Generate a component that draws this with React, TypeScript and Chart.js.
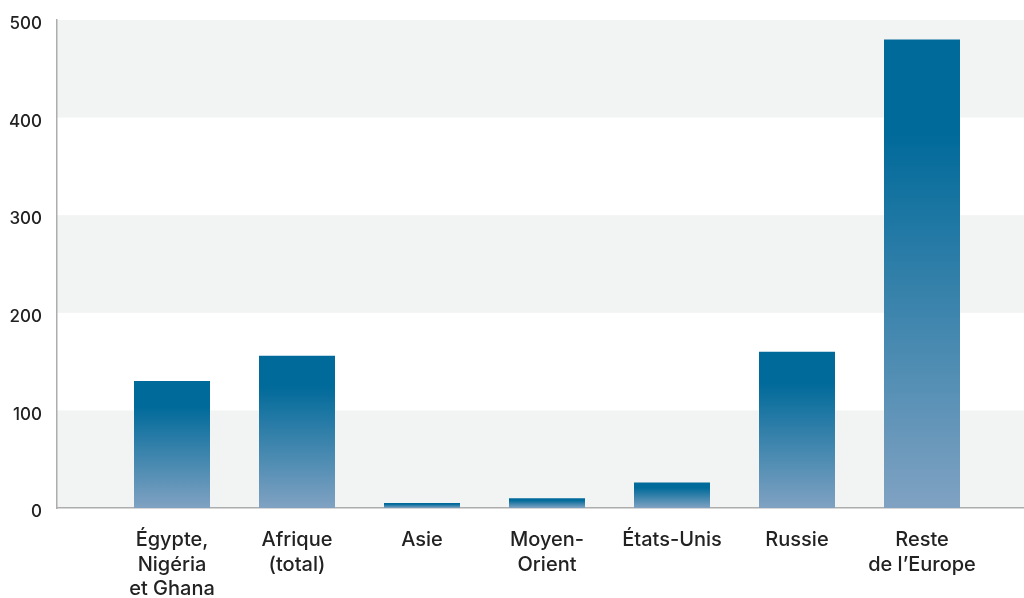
import React, { useEffect, useRef } from "react";
import { Chart, registerables } from "chart.js";

Chart.register(...registerables);

const categories: string[][] = [
  ["Égypte,", "Nigéria", "et Ghana"],
  ["Afrique", "(total)"],
  ["Asie"],
  ["Moyen-", "Orient"],
  ["États-Unis"],
  ["Russie"],
  ["Reste", "de l’Europe"],
];
const positions = [1, 2, 3, 4, 5, 6, 7];
const values = [130, 156, 5, 10, 26, 160, 480];
const yTicks = [0, 100, 200, 300, 400, 500];

const DARK = "#006a9a";
const LIGHT = "#80a2c2";
const BAND = "#f2f3f3";
const AXIS = "#adadad";
const TEXT = "#222222";
const FONT = "Inter, 'Liberation Sans', Arial, sans-serif";

const bandsPlugin = {
  id: "bands",
  beforeDraw(chart: any) {
    const { ctx, chartArea, scales } = chart;
    const y = scales.y;
    ctx.save();
    ctx.fillStyle = BAND;
    for (let i = 0; i < yTicks.length - 1; i += 2) {
      const y0 = y.getPixelForValue(yTicks[i]);
      const y1 = y.getPixelForValue(yTicks[i + 1]);
      ctx.fillRect(chartArea.left, y1, chartArea.right - chartArea.left, y0 - y1);
    }
    ctx.restore();
  },
};

export default function App() {
  const ref = useRef<HTMLCanvasElement>(null);
  useEffect(() => {
    document.body.style.margin = "0";
    const canvas = ref.current!;
    const chart = new Chart(canvas, {
      type: "bar",
      data: {
        datasets: [
          {
            data: positions.map((p, i) => ({ x: p, y: values[i] })),
            backgroundColor: (c: any) => {
              const ch = c.chart;
              const sy = ch.scales?.y;
              if (!ch.chartArea || !sy || !c.raw) return DARK;
              const top = sy.getPixelForValue(c.raw.y);
              const bottom = sy.getPixelForValue(0);
              if (!(bottom > top)) return DARK;
              const g = ch.ctx.createLinearGradient(0, top, 0, bottom);
              g.addColorStop(0, DARK);
              g.addColorStop(0.2, DARK);
              g.addColorStop(1, LIGHT);
              return g;
            },
            borderWidth: 0,
            barPercentage: 0.608,
            categoryPercentage: 1,
          },
        ],
      },
      options: {
        responsive: false,
        animation: false,
        layout: { padding: { top: 20, right: 0, left: 0, bottom: 0 } },
        plugins: { legend: { display: false }, tooltip: { enabled: false } },
        scales: {
          x: {
            type: "linear",
            offset: false,
            min: 0.08,
            max: 7.816,
            grid: { display: false, drawTicks: false },
            border: { display: true, color: AXIS, width: 1.5 },
            afterBuildTicks: (s: any) => {
              s.ticks = positions.map((v) => ({ value: v }));
            },
            afterFit: (s: any) => {
              s.height = 90;
              s.paddingLeft = 0;
              s.paddingRight = 0;
            },
            ticks: {
              autoSkip: false,
              maxRotation: 0,
              minRotation: 0,
              padding: 20,
              color: TEXT,
              font: { family: FONT, size: 20, weight: "500", lineHeight: 1.22 },
              callback: (v: any) => categories[positions.indexOf(Number(v))] ?? "",
            },
          },
          y: {
            min: 0,
            max: 500,
            grid: { display: false, drawTicks: false },
            border: { display: true, color: AXIS, width: 1.5 },
            afterBuildTicks: (s: any) => {
              s.ticks = yTicks.map((v) => ({ value: v }));
            },
            afterFit: (s: any) => {
              s.width = 57;
              s.paddingTop = 0;
              s.paddingBottom = 0;
            },
            ticks: {
              padding: 15,
              labelOffset: 4,
              color: TEXT,
              font: { family: FONT, size: 17, weight: "500" },
            },
          },
        },
      },
      plugins: [bandsPlugin],
    });
    return () => chart.destroy();
  }, []);
  return (
    <div style={{ width: 1024, height: 598 }}>
      <canvas ref={ref} width={1024} height={598} style={{ display: "block" }} />
    </div>
  );
}
